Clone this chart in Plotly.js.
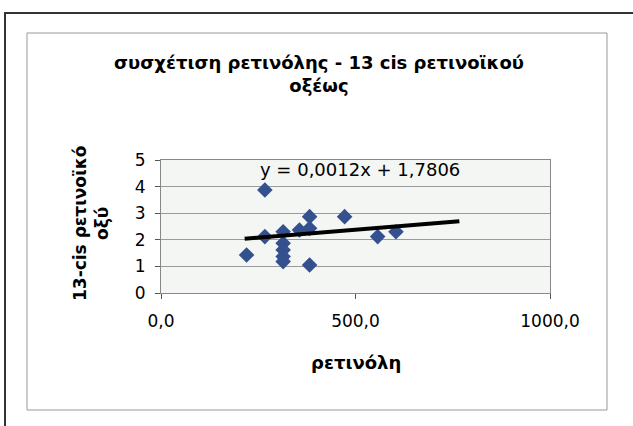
<!DOCTYPE html>
<html><head><meta charset="utf-8">
<script src="https://cdn.plot.ly/plotly-3.0.1.min.js"></script>
<style>body{margin:0;background:#fff}#c{width:633px;height:426px}</style>
</head><body><div id="c"></div>
<script>
// Data
const retinol = [220, 267, 267, 314, 314, 314, 314, 314, 356, 382, 382, 382, 472, 557, 604];
const cisRA   = [1.43, 3.87, 2.12, 2.30, 1.87, 1.62, 1.37, 1.18, 2.37, 2.87, 2.43, 1.05, 2.87, 2.12, 2.30];
const trendSlope = 0.0012;
const trendIntercept = 1.7806;
const trendXRange = [215, 767];
const xTickVals = [0, 500, 1000];
const xTickText = ["0,0", "500,0", "1000,0"];
const yTickVals = [0, 1, 2, 3, 4, 5];

const trendY = trendXRange.map(x => trendSlope * x + trendIntercept);

const L = 161, R = 550, T = 160, B = 293;
const px = v => (v - L) / (R - L);
const py = v => (B - v) / (B - T);

const font = "DejaVu Sans, sans-serif";

const data = [
  {x: retinol, y: cisRA, type: 'scatter', mode: 'markers',
   marker: {symbol: 'diamond', size: 12, color: '#34508f'}, cliponaxis: false, showlegend: false},
  {x: trendXRange, y: trendY, type: 'scatter', mode: 'lines',
   line: {color: '#000000', width: 4}, showlegend: false}
];

const layout = {
  width: 633, height: 426,
  margin: {l: L, r: 633 - R, t: T, b: 426 - B},
  paper_bgcolor: '#ffffff',
  plot_bgcolor: '#f3f6f3',
  showlegend: false,
  font: {family: font, color: '#000'},
  title: {text: 'συσχέτιση ρετινόλης - 13 cis ρετινοϊκού<br>οξέως',
          font: {family: font, size: 18, color: '#000', weight: 'bold'},
          x: 319/633, xanchor: 'center', y: 1 - 69/426, yanchor: 'middle'},
  xaxis: {range: [0, 1000], tickvals: xTickVals, ticktext: xTickText,
          ticks: 'outside', ticklen: 5, tickcolor: '#555', showgrid: false, zeroline: false,
          showline: true, linecolor: '#888', linewidth: 1, mirror: true,
          tickfont: {size: 17, family: font}, ticklabelstandoff: 8, fixedrange: true},
  yaxis: {range: [0, 5], tickvals: yTickVals, ticks: 'outside', ticklen: 5, tickcolor: '#555',
          showgrid: true, gridcolor: '#9a9a9a', gridwidth: 1, zeroline: false,
          showline: true, linecolor: '#888', linewidth: 1, mirror: true,
          tickfont: {size: 17, family: font}, ticklabelstandoff: 6, fixedrange: true},
  annotations: [
    {text: 'y = 0,0012x + 1,7806', xref: 'paper', yref: 'paper', x: px(360), y: py(169),
     showarrow: false, font: {size: 18, family: font}, xanchor: 'center', yanchor: 'middle'},
    {text: 'ρετινόλη', xref: 'paper', yref: 'paper', x: px(356), y: py(362),
     showarrow: false, font: {size: 18, family: font, weight: 'bold'}, xanchor: 'center', yanchor: 'middle'},
    {text: '13-cis ρετινοϊκό<br>οξύ', xref: 'paper', yref: 'paper', x: px(91), y: py(224),
     showarrow: false, textangle: -90, font: {size: 17, family: font, weight: 'bold'},
     xanchor: 'center', yanchor: 'middle'}
  ],
  shapes: [
    {type: 'rect', xref: 'paper', yref: 'paper', x0: px(5), x1: px(645), y0: py(440), y1: py(13),
     line: {color: '#333', width: 2}, layer: 'below'},
    {type: 'rect', xref: 'paper', yref: 'paper', x0: px(27), x1: px(607), y0: py(410), y1: py(33),
     line: {color: '#999', width: 1}, layer: 'below'}
  ]
};

Plotly.newPlot('c', data, layout, {displayModeBar: false, staticPlot: true});
</script></body></html>
